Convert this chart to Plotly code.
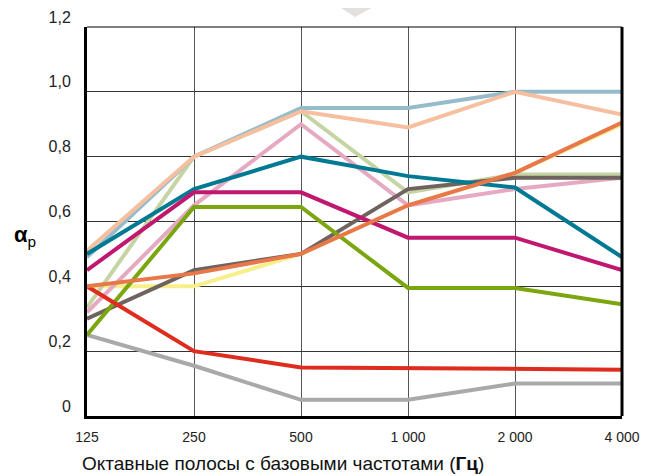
import plotly.graph_objects as go

# ---- data ----
bands = ["125", "250", "500", "1 000", "2 000", "4 000"]
y_ticks = [0, 0.2, 0.4, 0.6, 0.8, 1.0, 1.2]
y_tick_labels = ["0", "0,2", "0,4", "0,6", "0,8", "1,0", "1,2"]

yellow = [0.40, 0.40, 0.50, 0.65, 0.75, 0.90]
sage = [0.335, 0.80, 0.94, 0.69, 0.745, 0.745]
pink = [0.32, 0.65, 0.90, 0.65, 0.70, 0.735]
blue_grey = [0.49, 0.80, 0.95, 0.95, 1.00, 1.00]
peach = [0.51, 0.80, 0.94, 0.89, 1.00, 0.93]
grey = [0.25, 0.155, 0.05, 0.05, 0.10, 0.10]
brown = [0.30, 0.45, 0.50, 0.70, 0.735, 0.735]
teal = [0.50, 0.70, 0.80, 0.74, 0.705, 0.49]
magenta = [0.45, 0.69, 0.69, 0.55, 0.55, 0.45]
green = [0.25, 0.645, 0.645, 0.395, 0.395, 0.345]
red = [0.40, 0.20, 0.15, 0.148, 0.147, 0.143]
orange = [0.40, 0.44, 0.50, 0.65, 0.75, 0.905]

series = [
    (yellow, "#f7ef8a"),
    (sage, "#c6d4a4"),
    (pink, "#e6a9c2"),
    (blue_grey, "#95bccb"),
    (peach, "#f6bf9f"),
    (grey, "#a9a9a9"),
    (brown, "#6e635e"),
    (teal, "#007a93"),
    (magenta, "#c0176f"),
    (green, "#7ba60f"),
    (red, "#de2d1e"),
    (orange, "#e8774a"),
]

fig = go.Figure()
for vals, col in series:
    fig.add_trace(go.Scatter(
        x=bands, y=vals, mode="lines",
        line=dict(color=col, width=4),
        hoverinfo="skip", showlegend=False,
    ))

# page body has an 8px margin, so the figure is shrunk and shifted accordingly
fig.update_layout(
    width=643, height=468,
    margin=dict(l=79, r=29, t=19, b=60),
    paper_bgcolor="white", plot_bgcolor="white",
    font=dict(family="Liberation Sans, Arial, sans-serif", color="#1a1a1a"),
    showlegend=False,
)
fig.update_xaxes(
    type="category", range=[0, 5],
    showgrid=True, gridcolor="#555555", gridwidth=1,
    showline=True, linecolor="black", linewidth=3,
    ticks="", tickfont=dict(size=14, color="#222222"),
    ticklabelstandoff=6, automargin=False,
    zeroline=False,
)
fig.update_yaxes(
    range=[0, 1.2], tickvals=y_ticks, ticktext=y_tick_labels,
    showgrid=True, gridcolor="#333333", gridwidth=1,
    showline=True, linecolor="black", linewidth=3,
    ticks="", tickfont=dict(size=16, color="#222222"),
    ticklabelshift=-10, ticklabelstandoff=10,
    ticklabeloverflow="allow", automargin=False,
    zeroline=False,
)

fig.add_shape(type="line", xref="paper", yref="paper", x0=1, x1=1, y0=0, y1=1,
              line=dict(color="black", width=3))
fig.add_shape(type="line", xref="paper", yref="paper", x0=0, x1=1, y0=1, y1=1,
              line=dict(color="black", width=1))
fig.add_shape(type="path", xref="paper", yref="paper",
              path="M 0.445 1.075 L 0.567 1.075 L 0.501 1.026 Z",
              fillcolor="#e4e0dd", line=dict(width=0), layer="below")

fig.add_annotation(xref="paper", yref="paper", x=-0.116, y=0.462,
                   text="<b>α</b><sub>p</sub>", showarrow=False,
                   font=dict(size=22, color="black"),
                   xanchor="center", yanchor="middle")
fig.add_annotation(xref="paper", yref="paper", x=-0.0135, y=-0.122,
                   text="Октавные полосы с базовыми частотами (<b>Гц</b>)",
                   showarrow=False, font=dict(size=19, color="#111111"),
                   xanchor="left", yanchor="middle")

fig.write_html("out.html")
